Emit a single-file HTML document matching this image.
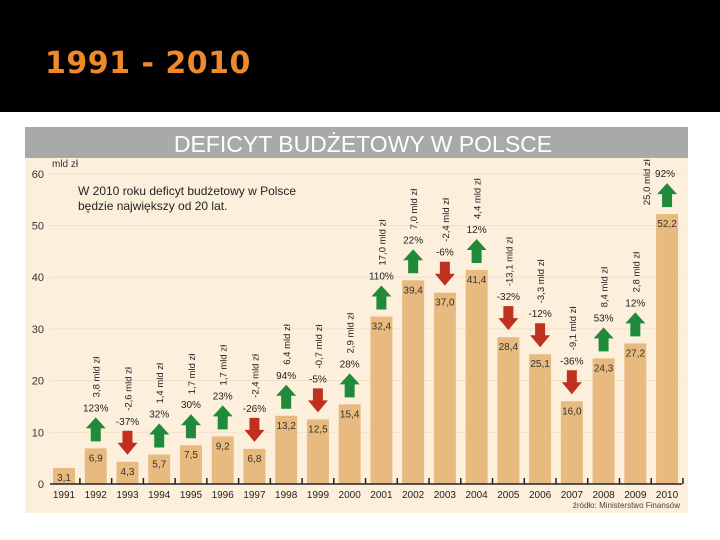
<!DOCTYPE html>
<html><head><meta charset="utf-8"><style>
body{margin:0;width:720px;height:540px;background:#fff;overflow:hidden;font-family:"Liberation Sans",sans-serif}
</style></head><body>
<div style="position:absolute;left:0;top:0;width:720px;height:112px;background:#000"></div>
<div style="position:absolute;left:45px;top:46px;font:bold 30px 'DejaVu Sans',sans-serif;color:#f0892a;letter-spacing:0.5px">1991 - 2010</div>
<svg id="chart" width="720" height="540" style="position:absolute;left:0;top:0">
<rect x="25" y="127" width="663" height="386" fill="#fcf0dd"/>
<rect x="25" y="127" width="663" height="31" fill="#a9a9a9"/>
<text x="363" y="152" text-anchor="middle" font-size="23" fill="#fff">DEFICYT BUDŻETOWY W POLSCE</text>
<text x="52" y="167" font-size="10" fill="#333">mld zł</text>
<text x="78" y="195" font-size="12" fill="#222">W 2010 roku deficyt budżetowy w Polsce</text>
<text x="78" y="210" font-size="12" fill="#222">będzie największy od  20 lat.</text>
<text x="680" y="508" text-anchor="end" font-size="8" fill="#444">źródło: Ministerstwo Finansów</text>
<g id="g"></g>
</svg>
<script>
const years=[1991,1992,1993,1994,1995,1996,1997,1998,1999,2000,2001,2002,2003,2004,2005,2006,2007,2008,2009,2010];
const values=[3.1,6.9,4.3,5.7,7.5,9.2,6.8,13.2,12.5,15.4,32.4,39.4,37.0,41.4,28.4,25.1,16.0,24.3,27.2,52.2];
const pctLabels=["","123%","-37%","32%","30%","23%","-26%","94%","-5%","28%","110%","22%","-6%","12%","-32%","-12%","-36%","53%","12%","92%"];
const changeLabels=["","3,8 mld zł","-2,6 mld zł","1,4 mld zł","1,7 mld zł","1,7 mld zł","-2,4 mld zł","6,4 mld zł","-0,7 mld zł","2,9 mld zł","17,0 mld zł","7,0 mld zł","-2,4 mld zł","4,4 mld zł","-13,1 mld zł","-3,3 mld zł","-9,1 mld zł","8,4 mld zł","2,8 mld zł","25,0 mld zł"];
const yTicks=[0,10,20,30,40,50,60];
const NS="http://www.w3.org/2000/svg",g=document.getElementById('g');
const y=v=>484-v*5.17, x=i=>64+i*31.74;
function mk(t,a,txt){const e=document.createElementNS(NS,t);for(const k in a)e.setAttribute(k,a[k]);if(txt!==undefined)e.textContent=txt;g.appendChild(e);return e;}
yTicks.forEach(t=>{
 const l=mk('line',{x1:50,x2:682,y1:y(t),y2:y(t),stroke:'#efe0c8','stroke-width':1});
 
 
 const tx=mk('text',{x:44,y:y(t)+4,'text-anchor':'end','font-size':11,fill:'#333'},t);
 
 
});
years.forEach((yr,i)=>{
 const v=values[i],top=y(v),cx=x(i);
 const b=mk('rect',{x:cx-11,y:top,width:22,height:484-top,fill:'#e8ba7f'});
 
 
 const vl=mk('text',{x:cx,y:top+13,'text-anchor':'middle','font-size':10,fill:'#333'},v.toFixed(1).replace('.',','));
 
 
 const yl=mk('text',{x:cx,y:498,'text-anchor':'middle','font-size':10,fill:'#222'},yr);
 
 
 const tk=mk('line',{x1:cx+15.9,x2:cx+15.9,y1:478,y2:484,stroke:'#222','stroke-width':1.5});
 
 
 if(!pctLabels[i])return;
 const up=!pctLabels[i].startsWith('-');
 const ab=top-7, at=ab-24; let p;
 if(up)p=`${cx},${at} ${cx+10},${at+11} ${cx+5},${at+11} ${cx+5},${ab} ${cx-5},${ab} ${cx-5},${at+11} ${cx-10},${at+11}`;
 else p=`${cx-5},${at} ${cx+5},${at} ${cx+5},${at+12} ${cx+10},${at+12} ${cx},${ab} ${cx-10},${at+12} ${cx-5},${at+12}`;
 const ar=mk('polygon',{points:p,fill:up?'#1f8a3a':'#c0301e'});
 
 
 const last=i===years.length-1;
 const pl=mk('text',{x:last?cx-2:cx,y:at-6,'text-anchor':'middle','font-size':10,fill:'#222'},pctLabels[i]);
 
 
 const rx=last?cx-17:cx+4, ry=last?at+22:at-20;
 const cl=mk('text',{x:rx,y:ry,'font-size':9.5,fill:'#222',transform:`rotate(-90 ${rx} ${ry})`},changeLabels[i]);
 
 
});
const ax=mk('line',{x1:50,x2:682,y1:484,y2:484,stroke:'#222','stroke-width':1.5});


</script>
</body></html>
